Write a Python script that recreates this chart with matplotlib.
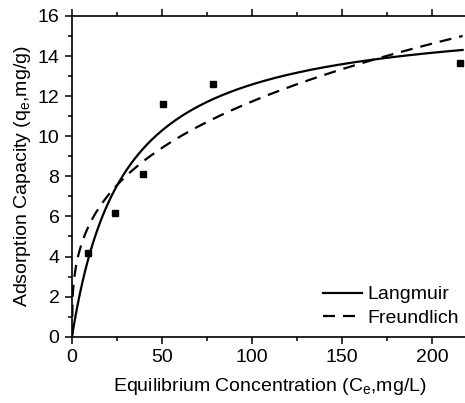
import numpy as np
import matplotlib
matplotlib.use("Agg")
import matplotlib.pyplot as plt
from matplotlib.ticker import MultipleLocator

plt.rcParams['font.family'] = ['Liberation Sans', 'DejaVu Sans']
plt.rcParams['mathtext.fontset'] = 'custom'
plt.rcParams['mathtext.rm'] = 'Liberation Sans'
plt.rcParams['mathtext.it'] = 'Liberation Sans:italic'

# experimental data
ce = [8.9, 23.9, 39.6, 50.7, 78.1, 215.6]
qe = [4.19, 6.16, 8.12, 11.63, 12.62, 13.64]

# isotherm fit parameters
qm, kl = 16.2, 0.0348      # Langmuir
kf, n_inv = 2.726, 0.317   # Freundlich

c = np.linspace(0, 217, 600)
q_lang = qm * kl * c / (1 + kl * c)
q_freu = kf * c ** n_inv

fig = plt.figure(figsize=(4.65, 4.03), dpi=100)
ax = fig.add_axes([0.1548, 0.1645, 0.8517, 0.7958])

ax.plot(ce, qe, 's', color='black', markersize=5, label='_data')
ax.plot(c, q_lang, '-', color='black', lw=1.6, label='Langmuir')
ax.plot(c, q_freu, '--', color='black', lw=1.6, dashes=(5.4, 3.6), label='Freundlich')

ax.set_xlim(0, 220)
ax.set_ylim(0, 16)
ax.xaxis.set_major_locator(MultipleLocator(50))
ax.xaxis.set_minor_locator(MultipleLocator(25))
ax.yaxis.set_major_locator(MultipleLocator(2))
ax.yaxis.set_minor_locator(MultipleLocator(1))
ax.tick_params(which='both', direction='out', top=True, right=False,
               labelsize=14, width=1.1)
ax.tick_params(which='major', length=5, pad=4)
ax.tick_params(which='minor', length=3)
for s in ax.spines.values():
    s.set_linewidth(1.2)

ax.set_xlabel('Equilibrium Concentration (C$_\\mathrm{e}$,mg/L)', fontsize=14, labelpad=7)
ax.set_ylabel('Adsorption Capacity (q$_\\mathrm{e}$,mg/g)', fontsize=14, labelpad=3)

ax.legend(loc='lower right', bbox_to_anchor=(1.012, -0.012), frameon=False,
          fontsize=14, handlelength=2.0, handletextpad=0.3, labelspacing=0.3,
          borderaxespad=0.3)

fig.savefig('out.png', dpi=100)
